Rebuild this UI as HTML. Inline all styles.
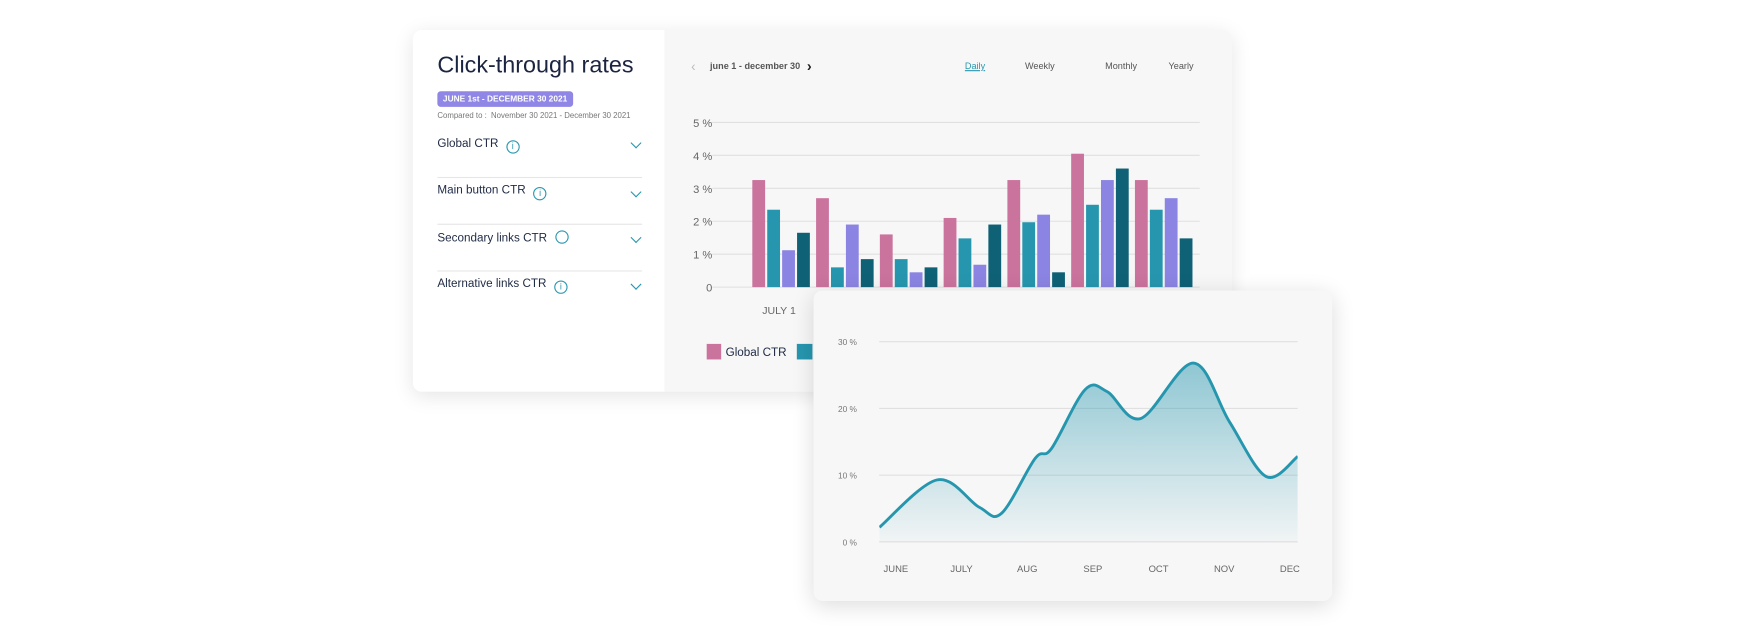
<!DOCTYPE html>
<html><head><meta charset="utf-8"><style>
html,body{margin:0;padding:0;background:#fff;width:1745px;height:632px;overflow:hidden;font-family:"Liberation Sans",sans-serif}
#stage{position:absolute;left:0;top:0;width:1568px;height:568px;transform:scale(1.1129);transform-origin:0 0}
.card1{position:absolute;left:371px;top:27px;width:736px;height:325px;border-radius:8px;overflow:hidden;box-shadow:0 4px 18px rgba(0,0,0,.10);background:#f7f7f7}
.left{position:absolute;left:0;top:0;width:226px;height:325px;background:#fff}
.card2{position:absolute;left:731px;top:261px;width:466px;height:279px;border-radius:8px;background:#f7f7f7;box-shadow:0 4px 20px rgba(0,0,0,.14)}
.t{position:absolute;white-space:nowrap}
.row{position:absolute;left:22px;width:184px;font-size:10.5px;color:#1e2a44}
.chev{position:absolute;right:2px;top:1px;width:6px;height:6px;border-right:1.6px solid #2a97b0;border-bottom:1.6px solid #2a97b0;transform:rotate(45deg)}
.info{display:inline-block;width:10px;height:10px;border:1.3px solid #2a97b0;border-radius:50%;vertical-align:-2px;margin-left:4px;font-size:8px;color:#2a97b0;text-align:center;line-height:10px}
</style></head><body>
<div id="stage">
<div class="card1">
 <div class="left">
  <div class="t" style="left:22px;top:20px;font-size:21px;color:#1b2440">Click-through rates</div>
  <div class="t" style="left:22px;top:55px;height:14px;padding:0 5px;background:#8f86e6;border-radius:3px;color:#fff;font-size:7.5px;font-weight:bold;line-height:14px">JUNE 1st - DECEMBER 30 2021</div>
  <div class="t" style="left:22px;top:74px;font-size:7px;color:#777">Compared to :&nbsp; November 30 2021 - December 30 2021</div>
  <div class="row" style="top:96px">Global CTR <span class="info">i</span><div class="chev" style="top:2px"></div></div>
  <div style="position:absolute;left:22px;width:184px;top:132px;border-top:1px solid #e6e6e6"></div>
  <div class="row" style="top:138px">Main button CTR <span class="info">i</span><div class="chev" style="top:4px"></div></div>
  <div style="position:absolute;left:22px;width:184px;top:174px;border-top:1px solid #e6e6e6"></div>
  <div class="row" style="top:180px">Secondary links CTR <span class="info"></span><div class="chev" style="top:3px"></div></div>
  <div style="position:absolute;left:22px;width:184px;top:216px;border-top:1px solid #e6e6e6"></div>
  <div class="row" style="top:222px">Alternative links CTR <span class="info">i</span><div class="chev" style="top:3px"></div></div>
 </div>
 <div class="t" style="left:250px;top:26px;font-size:12px;color:#bbb">‹</div>
 <div class="t" style="left:267px;top:28px;font-size:8.2px;color:#555;font-weight:bold">june 1 - december 30</div>
 <div class="t" style="left:354px;top:25px;font-size:13px;color:#222;font-weight:bold">›</div>
 <div class="t" style="left:496px;top:28px;font-size:8.2px;color:#2a97b0;text-decoration:underline">Daily</div>
 <div class="t" style="left:550px;top:28px;font-size:8.2px;color:#555">Weekly</div>
 <div class="t" style="left:622px;top:28px;font-size:8.2px;color:#555">Monthly</div>
 <div class="t" style="left:679px;top:28px;font-size:8.2px;color:#555">Yearly</div>
</div>
<svg id="bar" width="1568" height="568" style="position:absolute;left:0;top:0"></svg>
<div class="card2"></div>
<svg id="line" width="1568" height="568" style="position:absolute;left:0;top:0"></svg>
</div>
<script>
const groups=['JULY 1','','','','','',''];
const globalCtr=[3.25,2.7,1.6,2.1,3.25,4.05,3.25];
const mainCtr=[2.35,0.6,0.85,1.48,1.97,2.5,2.35];
const secondaryCtr=[1.12,1.9,0.45,0.68,2.2,3.25,2.7];
const altCtr=[1.65,0.85,0.6,1.9,0.45,3.6,1.48];
const barTicks=['0','1 %','2 %','3 %','4 %','5 %'];
const months=['JUNE','JULY','AUG','SEP','OCT','NOV','DEC'];
const trendT=[-0.25,0.63,1.27,1.61,2.12,2.37,2.88,3.22,3.73,4.53,5.08,5.64,6.12];
const trendV=[2.2,9.3,5.2,4.3,12.5,14,22.8,22.5,18.5,26.8,18,9.8,12.8];
const lineTicks=['0 %','10 %','20 %','30 %'];
const NS='http://www.w3.org/2000/svg';
function mk(svg,tag,a,txt){const e=document.createElementNS(NS,tag);for(const k in a)e.setAttribute(k,a[k]);if(txt!=null)e.textContent=txt;svg.appendChild(e);return e;}
const bs=document.getElementById('bar');
const by=v=>258-v*29.6, gx=i=>676+i*57.3;
barTicks.forEach((t,i)=>{const g=mk(bs,'line',{x1:640,x2:1078,y1:by(i),y2:by(i),stroke:'#e0e0e0'});

const l=mk(bs,'text',{x:640,y:by(i)+4,'text-anchor':'end','font-size':10,fill:'#666'},t);
});
const series=[globalCtr,mainCtr,secondaryCtr,altCtr],cols=['#ca739d','#2696ae','#8b84e2','#0f6176'];
groups.forEach((gname,i)=>{series.forEach((s,j)=>{const r=mk(bs,'rect',{x:gx(i)+j*13.4,y:by(s[i]),width:11.5,height:s[i]*29.6,fill:cols[j]});
});
if(gname){const l=mk(bs,'text',{x:gx(i)+24,y:282,'text-anchor':'middle','font-size':9.5,fill:'#666'},gname);
}});
const sw=mk(bs,'rect',{x:635,y:309,width:13,height:14,fill:cols[0]});

const lt=mk(bs,'text',{x:652,y:320,'font-size':10.5,fill:'#1e2a44'},'Global CTR');

const sw2=mk(bs,'rect',{x:716,y:309,width:14,height:14,fill:cols[1]});

const ls=document.getElementById('line');
const ly=v=>487-v*6, lx=t=>805+t*59;
const defs=mk(ls,'defs',{});const gr=mk(defs,'linearGradient',{id:'fg',x1:0,y1:0,x2:0,y2:1});
mk(gr,'stop',{offset:0,'stop-color':'#2696ae','stop-opacity':0.5});mk(gr,'stop',{offset:1,'stop-color':'#2696ae','stop-opacity':0.03});
const cp=mk(defs,'clipPath',{id:'cp'});mk(cp,'rect',{x:790,y:280,width:376,height:220});
lineTicks.forEach((t,i)=>{const g=mk(ls,'line',{x1:790,x2:1166,y1:ly(i*10),y2:ly(i*10),stroke:'#e0e0e0'});

const l=mk(ls,'text',{x:770,y:ly(i*10)+3,'text-anchor':'end','font-size':7.5,fill:'#777'},t);
});
months.forEach((m,i)=>{const l=mk(ls,'text',{x:lx(i),y:514,'text-anchor':'middle','font-size':8.5,fill:'#666'},m);
});
const P=trendT.map((t,i)=>[lx(t),ly(trendV[i])]);
let d='M'+P[0][0]+','+P[0][1];
for(let i=0;i<P.length-1;i++){const p0=P[Math.max(0,i-1)],p1=P[i],p2=P[i+1],p3=P[Math.min(P.length-1,i+2)];
d+=` C${p1[0]+(p2[0]-p0[0])/6},${p1[1]+(p2[1]-p0[1])/6} ${p2[0]-(p3[0]-p1[0])/6},${p2[1]-(p3[1]-p1[1])/6} ${p2[0]},${p2[1]}`;}
const area=mk(ls,'path',{d:d+` L${P[P.length-1][0]},${ly(0)} L${P[0][0]},${ly(0)} Z`,fill:'url(#fg)','clip-path':'url(#cp)'});

const ln=mk(ls,'path',{d:d,fill:'none',stroke:'#2696ae','stroke-width':2.6,'clip-path':'url(#cp)'});

</script>
</body></html>
